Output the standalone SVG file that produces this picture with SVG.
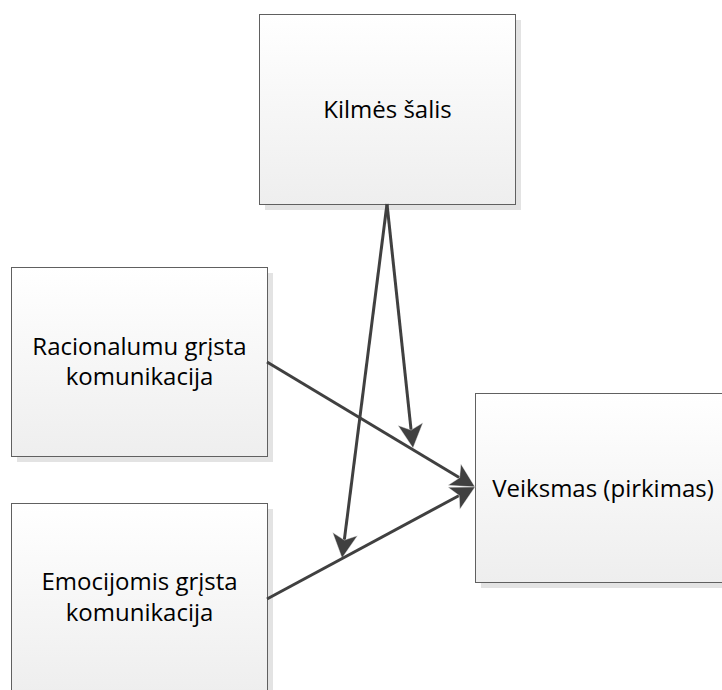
<svg xmlns="http://www.w3.org/2000/svg" width="722" height="690" viewBox="0 0 722 690">
  <style>
    .shadow { fill: #e3e3e3; }
    .box { fill: url(#boxFill); stroke: #606060; stroke-width: 1; }
    .label { font-family: "Open Sans", "Noto Sans", "Liberation Sans", sans-serif; font-size: 24px; fill: #000; text-anchor: middle; }
    .link { stroke: #404040; stroke-width: 3; fill: none; marker-end: url(#arrow); }
  </style>
  <defs>
    <linearGradient id="boxFill" x1="0" y1="0" x2="0" y2="1">
      <stop offset="0" stop-color="#ffffff"/>
      <stop offset="1" stop-color="#eeeeee"/>
    </linearGradient>
    <!-- notched dart arrowhead; path origin sits where the line stops -->
    <marker id="arrow" markerUnits="userSpaceOnUse" markerWidth="40" markerHeight="40"
            refX="0" refY="0" orient="auto" overflow="visible">
      <path d="M18,0 L-6,-12.5 L0,0 L-6,12.5 Z" fill="#404040" stroke="#f4f4f4" stroke-width="0.4"/>
    </marker>
  </defs>

  <g id="kilmes">
    <rect class="shadow" x="265" y="20" width="256" height="190"/>
    <rect class="box" x="259.5" y="14.5" width="256" height="190"/>
    <text class="label" x="387.5" y="118">Kilmės šalis</text>
  </g>

  <g id="racionalumu">
    <rect class="shadow" x="17" y="273" width="256" height="189"/>
    <rect class="box" x="11.5" y="267.5" width="256" height="189"/>
    <text class="label" x="139.5" y="355">Racionalumu grįsta</text>
    <text class="label" x="139.5" y="385">komunikacija</text>
  </g>

  <g id="emocijomis">
    <rect class="shadow" x="17" y="509" width="256" height="189"/>
    <rect class="box" x="11.5" y="503.5" width="256" height="189"/>
    <text class="label" x="139.5" y="590">Emocijomis grįsta</text>
    <text class="label" x="139.5" y="621">komunikacija</text>
  </g>

  <g id="veiksmas">
    <rect class="shadow" x="481" y="399" width="256" height="189"/>
    <rect class="box" x="475.5" y="393.5" width="256" height="189"/>
    <text class="label" x="603" y="497">Veiksmas (pirkimas)</text>
  </g>

  <g id="connectors">
    <line class="link" x1="387" y1="204" x2="411.1" y2="430.1"/>
    <line class="link" x1="387" y1="204" x2="344.3" y2="540.1"/>
    <line class="link" x1="267" y1="362" x2="459.6" y2="477.7"/>
    <line class="link" x1="267" y1="599" x2="459.2" y2="495.5"/>
  </g>
</svg>
